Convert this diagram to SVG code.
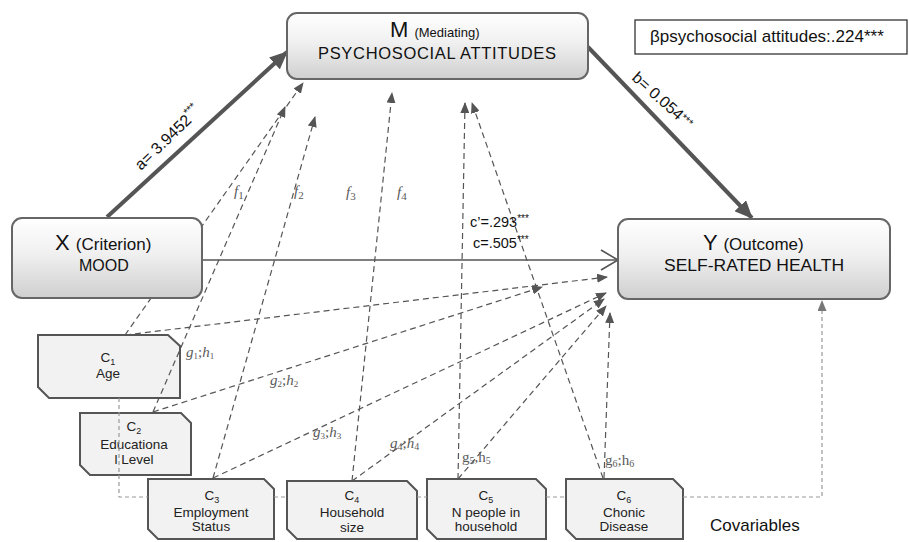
<svg xmlns="http://www.w3.org/2000/svg" width="909" height="542" viewBox="0 0 909 542">
<style>
.main{fill:url(#g);stroke:#666;stroke-width:2}
.cov{fill:#f2f2f2;stroke:#555;stroke-width:2}
.t{font-family:"Liberation Sans",Arial,sans-serif;fill:#111}
.ct{font-family:"Liberation Sans",Arial,sans-serif;fill:#222;font-size:13.5px;text-anchor:middle}
.d{fill:none;stroke:#555;stroke-width:1.2;stroke-dasharray:6,4;marker-end:url(#ah)}
.br{fill:none;stroke:#999;stroke-width:1.2;stroke-dasharray:4,3}
.lb{font-family:"Liberation Serif","Times New Roman",serif;fill:#5a5a5a;font-size:15px}
.it{font-style:italic}
</style>
<defs>
<linearGradient id="g" x1="0" y1="0" x2="0" y2="1">
<stop offset="0" stop-color="#ffffff"/>
<stop offset="0.45" stop-color="#f0f0f0"/>
<stop offset="1" stop-color="#cfcfcf"/>
</linearGradient>
<marker id="ah" markerUnits="userSpaceOnUse" markerWidth="11" markerHeight="9" refX="10" refY="4.5" orient="auto">
<path d="M0,0 L11,4.5 L0,9 z" fill="#555"/>
</marker>
<marker id="ahg" markerUnits="userSpaceOnUse" markerWidth="11" markerHeight="9" refX="10" refY="4.5" orient="auto">
<path d="M0,0 L11,4.5 L0,9 z" fill="#777"/>
</marker>
<marker id="big" markerUnits="userSpaceOnUse" markerWidth="18" markerHeight="16" refX="17" refY="8" orient="auto">
<path d="M0,0 L18,8 L0,16 z" fill="#555"/>
</marker>
<marker id="open" markerUnits="userSpaceOnUse" markerWidth="20" markerHeight="22" refX="18" refY="11" orient="auto">
<path d="M1,1 L18,11 L1,21" fill="none" stroke="#555" stroke-width="1.6"/>
</marker>
</defs>

<g id="cov-nodes">
<g id="C1">
<polygon class="cov" points="38,335 168,335 180,346 180,398 49,398 38,387"/>
<text class="ct" x="108" y="362">C<tspan font-size="9" dy="3">1</tspan></text>
<text class="ct" x="108" y="378">Age</text>
</g>
<g id="C2">
<polygon class="cov" points="80,413 181,413 191,423 191,475 90,475 80,465"/>
<text class="ct" x="134" y="431">C<tspan font-size="9" dy="3">2</tspan></text>
<text class="ct" x="134" y="449">Educationa</text>
<text class="ct" x="134" y="464">l Level</text>
</g>
<g id="C3">
<polygon class="cov" points="148,479 264,479 274,489 274,539 158,539 148,529"/>
<text class="ct" x="212" y="500">C<tspan font-size="9" dy="3">3</tspan></text>
<text class="ct" x="211" y="517">Employment</text>
<text class="ct" x="211" y="531">Status</text>
</g>
<g id="C4">
<polygon class="cov" points="287,481 407,481 417,491 417,539 297,539 287,529"/>
<text class="ct" x="352" y="500">C<tspan font-size="9" dy="3">4</tspan></text>
<text class="ct" x="352" y="517">Household</text>
<text class="ct" x="352" y="532">size</text>
</g>
<g id="C5">
<polygon class="cov" points="427,479 536,479 546,489 546,539 437,539 427,529"/>
<text class="ct" x="486" y="500">C<tspan font-size="9" dy="3">5</tspan></text>
<text class="ct" x="486" y="517">N people in</text>
<text class="ct" x="486" y="531">household</text>
</g>
<g id="C6">
<polygon class="cov" points="566,479 673,479 683,489 683,539 576,539 566,529"/>
<text class="ct" x="624" y="500">C<tspan font-size="9" dy="3">6</tspan></text>
<text class="ct" x="624" y="517">Chonic</text>
<text class="ct" x="624" y="531">Disease</text>
</g>
</g>

<g id="connectors">
<line x1="107" y1="217" x2="287" y2="52" stroke="#555" stroke-width="4" marker-end="url(#big)"/>
<line x1="588" y1="47" x2="752" y2="218" stroke="#555" stroke-width="4" marker-end="url(#big)"/>
<line x1="202" y1="260" x2="618" y2="260" stroke="#555" stroke-width="1.6" marker-end="url(#open)"/>
<line class="d" x1="125" y1="335" x2="303" y2="83"/>
<line class="d" x1="153" y1="412" x2="285" y2="107"/>
<line class="d" x1="213" y1="478" x2="315" y2="117"/>
<line class="d" x1="352" y1="481" x2="392" y2="93"/>
<line class="d" x1="458" y1="479" x2="465" y2="103"/>
<line class="d" x1="603" y1="478" x2="472" y2="103"/>
<line class="d" x1="125" y1="335" x2="607" y2="277"/>
<line class="d" x1="153" y1="412" x2="542" y2="287"/>
<line class="d" x1="213" y1="478" x2="606" y2="293"/>
<line class="d" x1="352" y1="481" x2="604" y2="299"/>
<line class="d" x1="458" y1="479" x2="606" y2="306"/>
<line class="d" x1="604" y1="478" x2="610" y2="313"/>
<path class="br" d="M119,398 V497 H148 M274,497 H287 M417,497 H427 M546,497 H566"/>
<path class="br" d="M683,497 H822 V301" marker-end="url(#ahg)"/>
</g>

<g id="X">
<rect class="main" x="12" y="218" width="190" height="80" rx="10"/>
<text class="t" x="55" y="250" font-size="22">X <tspan font-size="17">(Criterion)</tspan></text>
<text class="t" x="79" y="271" font-size="16">MOOD</text>
</g>
<g id="M">
<rect class="main" x="287" y="13" width="301" height="66" rx="10"/>
<text class="t" x="390" y="37" font-size="22">M <tspan font-size="13">(Mediating)</tspan></text>
<text class="t" x="318" y="59" font-size="16.5" textLength="238" lengthAdjust="spacing">PSYCHOSOCIAL  ATTITUDES</text>
</g>
<g id="Y">
<rect class="main" x="618" y="219" width="272" height="80" rx="10"/>
<text class="t" x="703" y="250" font-size="22">Y <tspan font-size="17">(Outcome)</tspan></text>
<text class="t" x="664" y="271" font-size="16" textLength="180" lengthAdjust="spacingAndGlyphs">SELF-RATED HEALTH</text>
</g>
<g id="beta">
<rect x="635" y="20" width="272" height="34" fill="#fff" stroke="#333" stroke-width="1.3"/>
<text class="t" x="650" y="42" font-size="17">βpsychosocial attitudes:.224***</text>
</g>

<g id="labels">
<text class="t" font-size="16" transform="translate(141,171) rotate(-44)">a= 3.9452<tspan font-size="11" dy="-7">***</tspan></text>
<text class="t" font-size="16" transform="translate(631,79) rotate(42)">b= 0.054<tspan font-size="11" dy="-3">***</tspan></text>
<text class="t" x="470" y="227" font-size="14.5">c’=.293<tspan font-size="10" dy="-5">***</tspan></text>
<text class="t" x="473" y="248" font-size="14.5">c=.505<tspan font-size="10" dy="-5">***</tspan></text>
<text class="lb" x="234" y="196" font-size="16"><tspan class="it">f</tspan><tspan font-size="11" dy="3">1</tspan></text>
<text class="lb" x="294" y="196" font-size="16"><tspan class="it">f</tspan><tspan font-size="11" dy="3">2</tspan></text>
<text class="lb" x="346" y="197" font-size="16"><tspan class="it">f</tspan><tspan font-size="11" dy="3">3</tspan></text>
<text class="lb" x="397" y="197" font-size="16"><tspan class="it">f</tspan><tspan font-size="11" dy="3">4</tspan></text>
<text class="lb" x="186" y="357" font-size="14"><tspan class="it">g</tspan><tspan font-size="9" dy="2">1</tspan><tspan dy="-2">;</tspan><tspan class="it">h</tspan><tspan font-size="9" dy="2">1</tspan></text>
<text class="lb" x="270" y="385" font-size="14"><tspan class="it">g</tspan><tspan font-size="9" dy="2">2</tspan><tspan dy="-2">;</tspan><tspan class="it">h</tspan><tspan font-size="9" dy="2">2</tspan></text>
<text class="lb" x="313" y="437" font-size="14"><tspan class="it">g</tspan><tspan font-size="9" dy="2">3</tspan><tspan dy="-2">;</tspan><tspan class="it">h</tspan><tspan font-size="9" dy="2">3</tspan></text>
<text class="lb" x="390" y="448" font-size="16"><tspan class="it">g</tspan><tspan font-size="10" dy="2">4</tspan><tspan dy="-2">;</tspan><tspan class="it">h</tspan><tspan font-size="10" dy="2">4</tspan></text>
<text class="lb" x="462" y="462" font-size="16">g<tspan font-size="10" dy="2">5</tspan><tspan dy="-2">,</tspan>h<tspan font-size="10" dy="2">5</tspan></text>
<text class="lb" x="605" y="465" font-size="16">g<tspan font-size="10" dy="2">6</tspan><tspan dy="-2">;</tspan>h<tspan font-size="10" dy="2">6</tspan></text>
<text class="t" x="710" y="531" font-size="17">Covariables</text>
</g>
</svg>
